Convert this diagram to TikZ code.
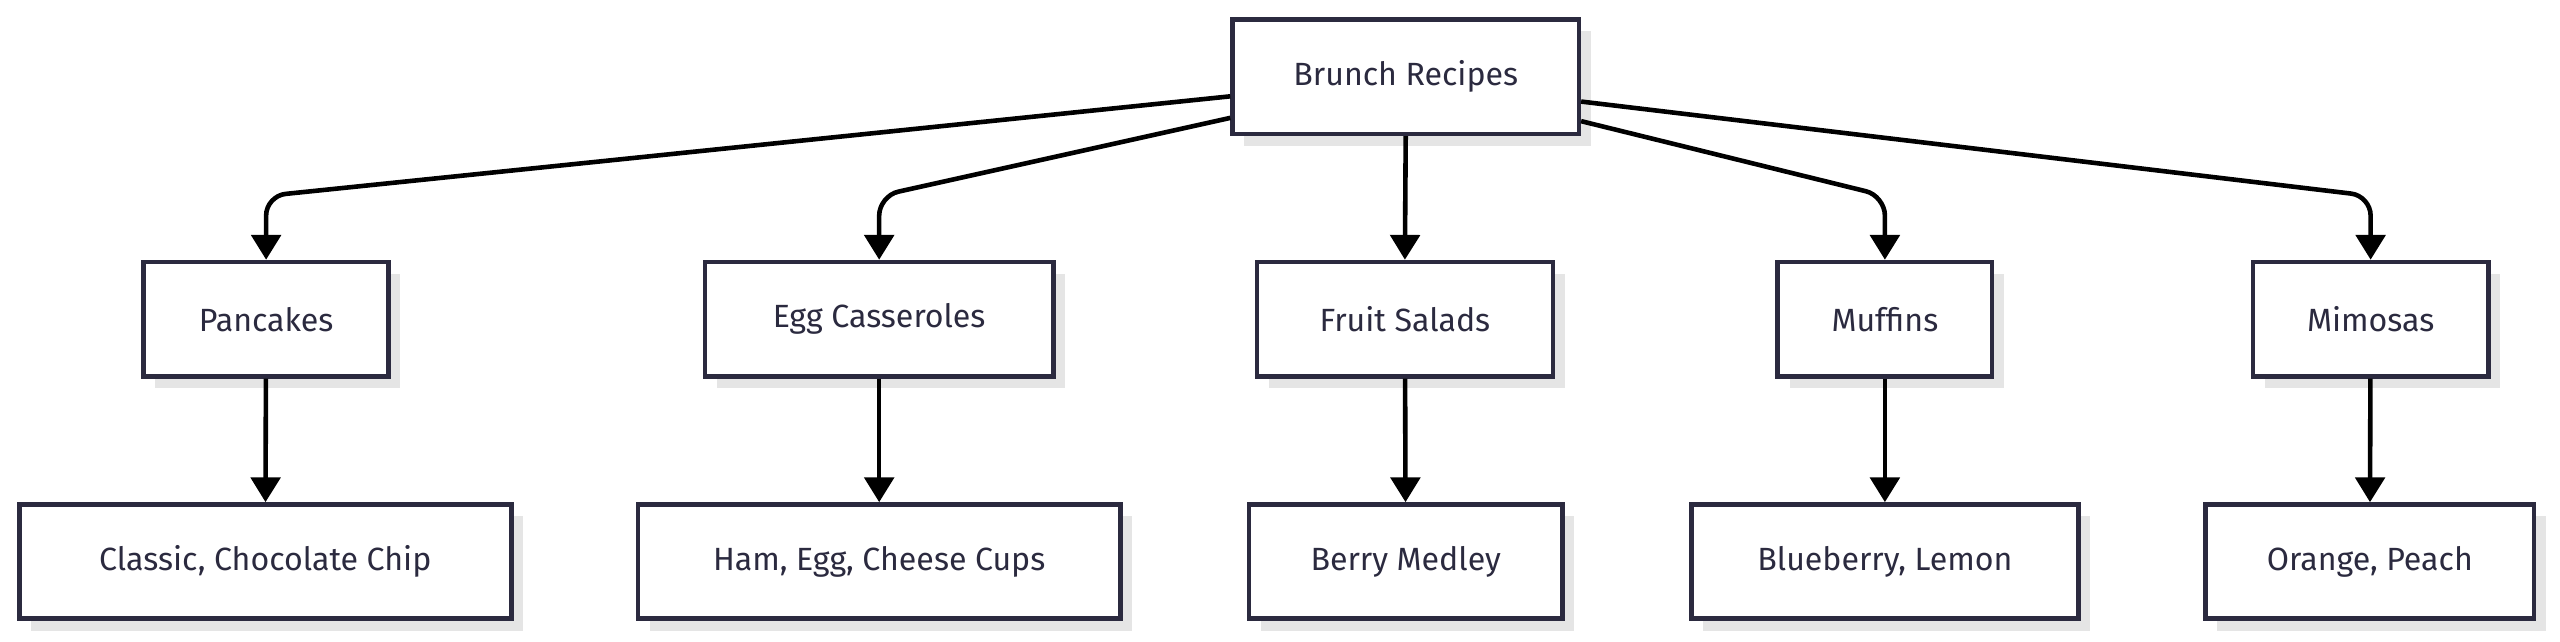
\documentclass[tikz,border=0pt]{standalone}
\usepackage{fontspec}
\setmainfont{Fira Sans}
\usetikzlibrary{arrows.meta,shadows}
\definecolor{boxline}{HTML}{2B2A3F}
\definecolor{boxtext}{HTML}{2B2A3F}
\tikzset{
  recipe/.style={draw=boxline, line width=2pt, fill=white, text=boxtext,
    font=\fontsize{14}{16}\selectfont, minimum height=1.75cm,
    drop shadow={shadow xshift=0.18cm, shadow yshift=-0.18cm, fill=black!10, opacity=1}},
  link/.style={line width=2pt, black, rounded corners=0.3cm,
    -{Triangle[length=0.38cm,width=0.45cm]}}
}
\begin{document}
\begin{tikzpicture}[x=0.025cm,y=-0.025cm]
  \useasboundingbox (0,0) rectangle (1568,393);

  % Root
  \node[recipe, minimum width=5.3cm] (brunch) at (861,47) {Brunch Recipes};

  % Categories
  \node[recipe, minimum width=3.75cm] (pancakes) at (163,195.5) {Pancakes};
  \node[recipe, minimum width=5.33cm] (eggs) at (538.5,195.5) {Egg Casseroles};
  \node[recipe, minimum width=4.53cm] (fruit) at (860.5,195.5) {Fruit Salads};
  \node[recipe, minimum width=3.28cm] (muffins) at (1154.5,195.5) {Muffins};
  \node[recipe, minimum width=3.6cm] (mimosas) at (1452,195.5) {Mimosas};

  % Varieties
  \node[recipe, minimum width=7.53cm] (classic) at (162.5,344) {Classic, Chocolate Chip};
  \node[recipe, minimum width=7.38cm] (cups) at (538.5,344) {Ham, Egg, Cheese Cups};
  \node[recipe, minimum width=4.8cm] (berry) at (861,344) {Berry Medley};
  \node[recipe, minimum width=5.93cm] (blueberry) at (1154.5,344) {Blueberry, Lemon};
  \node[recipe, minimum width=5.03cm] (orange) at (1451.5,344) {Orange, Peach};

  % Links from root
  \draw[link] ([yshift=-0.3cm]brunch.west) -- (163,120) -- (pancakes.north);
  \draw[link] ([yshift=-0.63cm]brunch.west) -- (538.5,120) -- (eggs.north);
  \draw[link] (brunch.south) -- (fruit.north);
  \draw[link] ([yshift=-0.68cm]brunch.east) -- (1154.5,120) -- (muffins.north);
  \draw[link] ([yshift=-0.38cm]brunch.east) -- (1452,120) -- (mimosas.north);

  % Links to varieties
  \draw[link] (pancakes) -- (classic);
  \draw[link] (eggs) -- (cups);
  \draw[link] (fruit) -- (berry);
  \draw[link] (muffins) -- (blueberry);
  \draw[link] (mimosas) -- (orange);
\end{tikzpicture}
\end{document}
